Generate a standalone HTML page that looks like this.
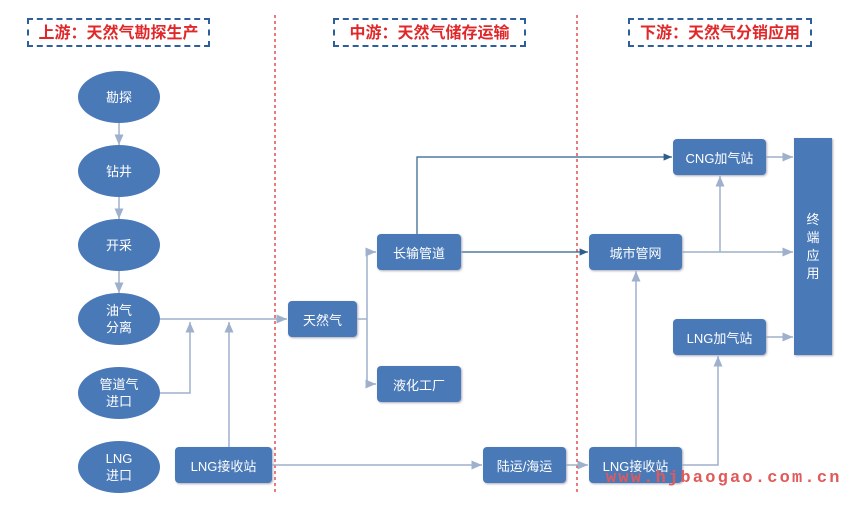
<!DOCTYPE html>
<html><head><meta charset="utf-8"><style>
body{margin:0;width:856px;height:505px;background:#fff;position:relative;overflow:hidden;font-family:"Liberation Sans","Noto Sans CJK SC",sans-serif}
.h{position:absolute;top:18px;height:29px;border:2px dashed #2e5f9a;color:#e0282a;font-size:16px;font-weight:bold;line-height:27px;text-align:center;box-sizing:border-box}
.e{position:absolute;left:78px;width:82px;height:52px;border-radius:50%;background:#4a79b8;color:#fff;font-size:13px;display:flex;align-items:center;justify-content:center;text-align:center;line-height:17px}
.r{position:absolute;background:#4a79b8;color:#fff;font-size:13px;border-radius:4px;display:flex;align-items:center;justify-content:center;box-shadow:1px 1px 2px #aab}
svg{position:absolute;left:0;top:0}
.wm{position:absolute;left:606px;top:469px;color:#e05a5a;font-size:17px;font-weight:bold;letter-spacing:2.2px;font-family:"Liberation Mono",monospace;white-space:nowrap}
</style></head><body>
<svg width="856" height="505">
<defs>
<marker id="a" markerWidth="8" markerHeight="8" refX="7" refY="4" orient="auto"><path d="M0,1 L7,4 L0,7z" fill="#9fb0cc"/></marker>
<marker id="b" markerWidth="8" markerHeight="8" refX="7" refY="4" orient="auto"><path d="M0,1 L7,4 L0,7z" fill="#2e5f8a"/></marker>
</defs>
<g stroke="#e05050" stroke-width="1.5" stroke-dasharray="3,3"><line x1="275" y1="15" x2="275" y2="495"/><line x1="577" y1="15" x2="577" y2="495"/></g>
<g stroke="#9fb0cc" stroke-width="1.5" fill="none">
<line x1="119" y1="123" x2="119" y2="145" marker-end="url(#a)"/>
<line x1="119" y1="197" x2="119" y2="219" marker-end="url(#a)"/>
<line x1="119" y1="271" x2="119" y2="293" marker-end="url(#a)"/>
<line x1="160" y1="319" x2="287" y2="319" marker-end="url(#a)"/>
<polyline points="160,393 190,393 190,322" marker-end="url(#a)"/>
<line x1="229" y1="447" x2="229" y2="322" marker-end="url(#a)"/>
<polyline points="357,319 367,319"/>
<line x1="367" y1="252" x2="367" y2="384"/>
<line x1="367" y1="252" x2="376" y2="252" marker-end="url(#a)"/>
<line x1="367" y1="384" x2="376" y2="384" marker-end="url(#a)"/>
<line x1="272" y1="465" x2="482" y2="465" marker-end="url(#a)"/>
<line x1="566" y1="465" x2="588" y2="465" marker-end="url(#a)"/>
<line x1="636" y1="447" x2="636" y2="271" marker-end="url(#a)"/>
<polyline points="682,465 718,465 718,356" marker-end="url(#a)"/>
<line x1="682" y1="252" x2="793" y2="252" marker-end="url(#a)"/>
<line x1="720" y1="252" x2="720" y2="176" marker-end="url(#a)"/>
<line x1="766" y1="157" x2="793" y2="157" marker-end="url(#a)"/>
<line x1="766" y1="337" x2="793" y2="337" marker-end="url(#a)"/>
</g>
<g stroke="#2e5f8a" stroke-width="1.2" fill="none">
<polyline points="417,234 417,157 672,157" marker-end="url(#b)"/>
<line x1="461" y1="252" x2="588" y2="252" marker-end="url(#b)"/>
</g>
</svg>
<div class="h" style="left:27px;width:183px">上游：天然气勘探生产</div>
<div class="h" style="left:333px;width:193px">中游：天然气储存运输</div>
<div class="h" style="left:628px;width:184px">下游：天然气分销应用</div>
<div class="e" style="top:71px">勘探</div>
<div class="e" style="top:145px">钻井</div>
<div class="e" style="top:219px">开采</div>
<div class="e" style="top:293px">油气<br>分离</div>
<div class="e" style="top:367px">管道气<br>进口</div>
<div class="e" style="top:441px">LNG<br>进口</div>
<div class="r" style="left:288px;top:301px;width:69px;height:36px">天然气</div>
<div class="r" style="left:377px;top:234px;width:84px;height:36px">长输管道</div>
<div class="r" style="left:377px;top:366px;width:84px;height:36px">液化工厂</div>
<div class="r" style="left:175px;top:447px;width:97px;height:36px">LNG接收站</div>
<div class="r" style="left:483px;top:447px;width:83px;height:36px">陆运/海运</div>
<div class="r" style="left:589px;top:447px;width:93px;height:36px">LNG接收站</div>
<div class="r" style="left:589px;top:234px;width:93px;height:36px">城市管网</div>
<div class="r" style="left:673px;top:139px;width:93px;height:36px">CNG加气站</div>
<div class="r" style="left:673px;top:319px;width:93px;height:36px">LNG加气站</div>
<div class="r" style="left:794px;top:138px;width:38px;height:217px;border-radius:0;line-height:18px;text-align:center">终<br>端<br>应<br>用</div>
<div class="wm">www.hjbaogao.com.cn</div>
</body></html>
